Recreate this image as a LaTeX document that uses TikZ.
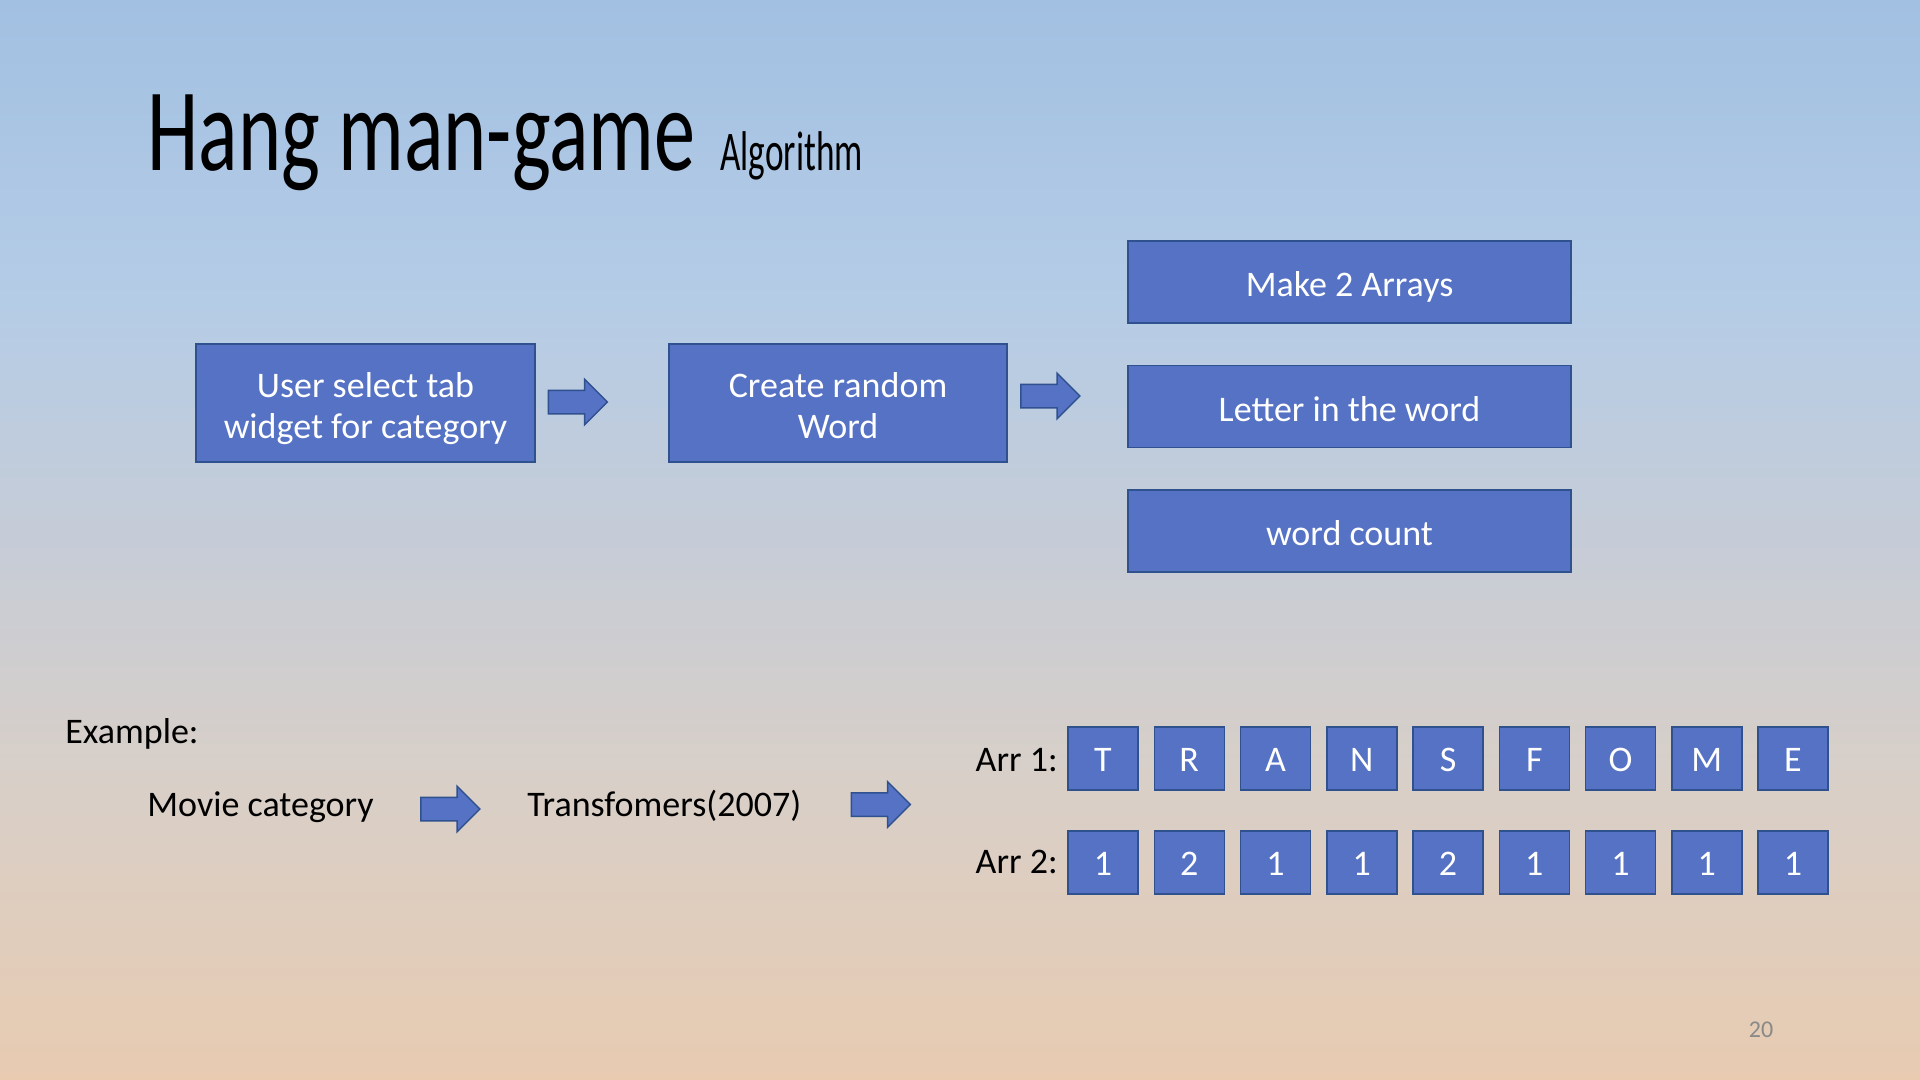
\documentclass[tikz,border=0pt]{standalone}
\usepackage{fontspec}
\setmainfont{Carlito}
\usetikzlibrary{shapes.arrows}

% slide palette
\definecolor{bgtop}{HTML}{A2C0E2}
\definecolor{bgupper}{HTML}{B5CCE6}
\definecolor{bgmid}{HTML}{C6CCD7}
\definecolor{bglower}{HTML}{D8CFC8}
\definecolor{bgbot}{HTML}{E8CBB1}
\definecolor{boxfill}{HTML}{5572C4}
\definecolor{boxline}{HTML}{2F528F}
\definecolor{pagenum}{HTML}{898989}

% TikZ fits the band 25bp--75bp of a vertical shading to the path
\pgfdeclareverticalshading{slidebg}{100bp}{%
  color(0bp)=(bgbot); color(25bp)=(bgbot); color(39bp)=(bglower);
  color(50bp)=(bgmid); color(61bp)=(bgupper); color(75bp)=(bgtop);
  color(100bp)=(bgtop)}

\tikzset{
  flowbox/.style={draw=boxline, line width=0.75pt, fill=boxfill,
    text=white, align=center, inner sep=2pt,
    text height=14.7pt, text depth=0pt,
    font=\fontsize{18pt}{20.5pt}\selectfont},
  twoline/.style={text height=35.2pt, text depth=0pt},
  cell/.style={flowbox, text height=13pt, minimum width=35pt, minimum height=31.5pt},
  blockarrow/.style={shape=single arrow, draw=boxline, line width=0.75pt,
    fill=boxfill, inner xsep=0pt, inner ysep=5.5pt,
    single arrow head extend=5.5pt, minimum width=22pt, minimum height=29.5pt},
  plain/.style={inner sep=0pt, font=\fontsize{18pt}{20.5pt}\selectfont},
}

\begin{document}
\begin{tikzpicture}[x=0.5pt, y=-0.5pt]
  \useasboundingbox (0,0) rectangle (1920,1080);
  \shade[shading=slidebg] (0,0) rectangle (1920,1080);

  % title
  \node[anchor=base west, inner sep=0pt] (title) at (147,171)
    {\scalebox{0.697}[1]{\fontsize{59pt}{60pt}\selectfont Hang man-game}};
  \node[anchor=base west, inner sep=0pt] (subtitle) at (720,171)
    {\scalebox{0.63}[1]{\fontsize{28pt}{30pt}\selectfont Algorithm}};

  % flow of the algorithm
  \node[flowbox, twoline, minimum width=169.5pt, minimum height=59pt] (select) at (365.5,403)
    {User select tab\\widget for category};
  \node[blockarrow] (a1) at (572,402) {};
  \node[flowbox, twoline, minimum width=169pt, minimum height=59pt] (random) at (838,403)
    {Create random\\Word};
  \node[blockarrow] (a2) at (1044.5,396) {};
  \node[flowbox, minimum width=221.5pt, minimum height=41pt] (arrays) at (1349.5,282)
    {Make 2 Arrays};
  \node[flowbox, minimum width=221.5pt, minimum height=41pt] (letters) at (1349.5,406.5)
    {Letter in the word};
  \node[flowbox, minimum width=221.5pt, minimum height=41pt] (count) at (1349.5,531)
    {word count};

  % worked example
  \node[plain, anchor=base west] (example) at (65,743) {Example:};
  \node[plain, anchor=base west] (movie) at (147,816) {Movie category};
  \node[blockarrow] (a3) at (444.5,809) {};
  \node[plain, anchor=base west] (film) at (527,816) {Transfomers(2007)};
  \node[blockarrow] (a4) at (875,804.5) {};

  \node[plain, anchor=base east] (arr1) at (1058,771) {Arr 1:};
  \node[plain, anchor=base east] (arr2) at (1058,873) {Arr 2:};

  \foreach \ch [count=\i from 0] in {T,R,A,N,S,F,O,M,E}
    \node[cell] (l\i) at (1103+86.25*\i,758.5) {\ch};
  \foreach \n [count=\i from 0] in {1,2,1,1,2,1,1,1,1}
    \node[cell] (c\i) at (1103+86.25*\i,862.5) {\n};

  % page number
  \node[text=pagenum, inner sep=0pt, font=\fontsize{12pt}{14pt}\selectfont]
    (page) at (1761,1030) {20};
\end{tikzpicture}
\end{document}
